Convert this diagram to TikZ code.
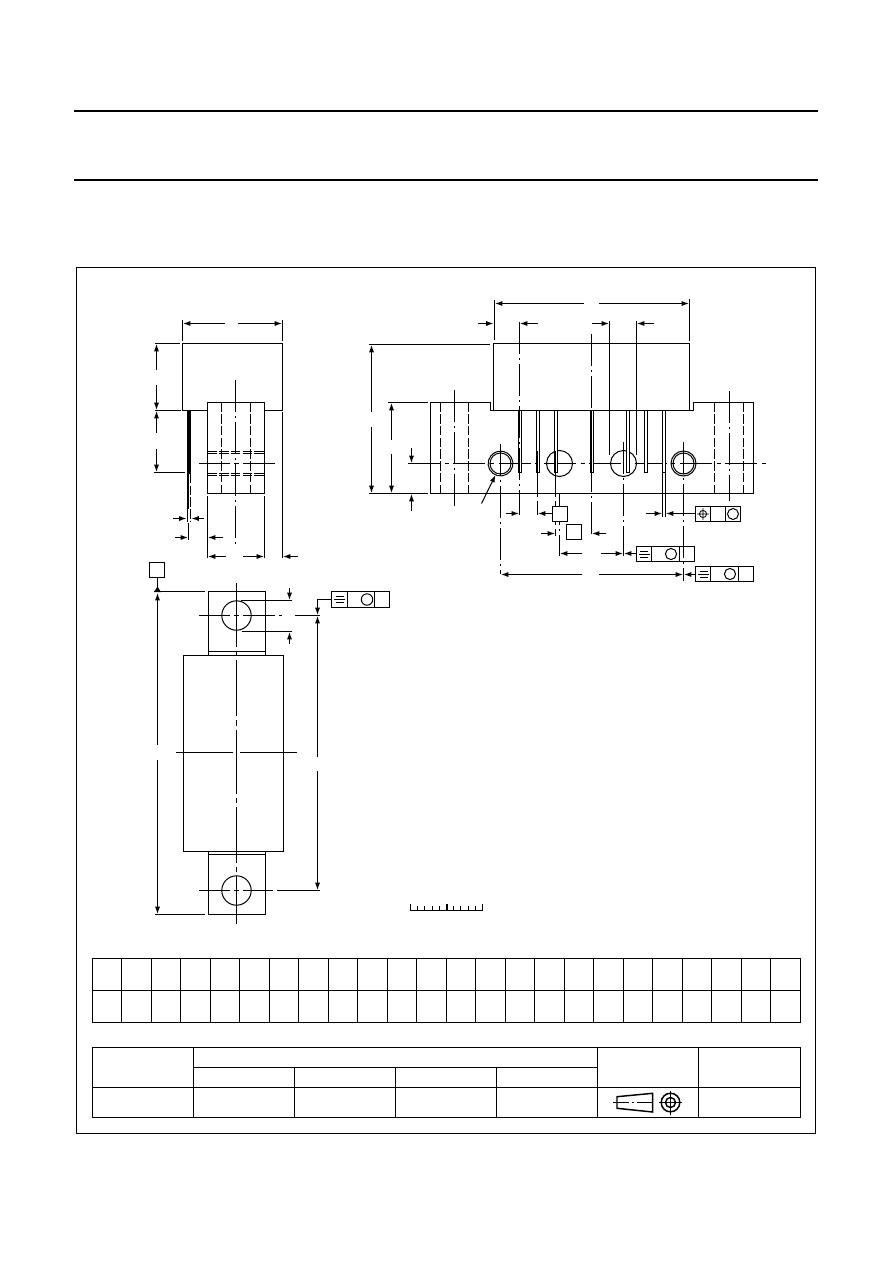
\documentclass[tikz,border=0pt]{standalone}
\usetikzlibrary{arrows.meta}
\tikzset{
  line/.style={line width=0.75pt},
  heavy/.style={line width=1.5pt},
  ctr/.style={line width=0.75pt,dash pattern=on 24pt off 3pt on 1.5pt off 3pt},
  hid/.style={line width=0.75pt,dash pattern=on 7pt off 1.8pt},
  dim/.style={line width=0.75pt,-{Latex[length=5.5pt,width=3.8pt]}},
}
\newcommand{\flatsym}[2]{\draw[line width=0.6pt] (#1-4,#2-3) -- (#1+4,#2-3) (#1-5.5,#2) -- (#1+5.5,#2) (#1-4,#2+3) -- (#1+4,#2+3);}
\begin{document}
\begin{tikzpicture}[x=0.75pt,y=-0.75pt]
\useasboundingbox (0,0) rectangle (892,1263);
\fill[white] (0,0) rectangle (892,1263);
% page rules and frame
\draw[heavy] (74,111) -- (818,111) (74,180) -- (818,180);
\draw[line] (76.5,267.5) rectangle (815.5,1133.5);

% ===== left (side) view =====
\draw[line] (207.5,410.5) -- (182.5,410.5) -- (182.5,343.5) -- (282.5,343.5) -- (282.5,410.5) -- (264.5,410.5);
\draw[line] (207.5,402.5) rectangle (264.5,493.5);
\draw[hid] (221.5,402.5) -- (221.5,493.5) (250.5,402.5) -- (250.5,493.5);
\draw[hid] (207.5,451.5) -- (266,451.5) (207.5,453.5) -- (266,453.5) (207.5,473.5) -- (266,473.5) (207.5,475.5) -- (266,475.5);
\draw[ctr] (235.5,380) -- (235.5,543.7);
\draw[line] (199,463.5) -- (230,463.5) (234,463.5) -- (239,463.5) (243,463.5) -- (275,463.5);
\fill (187,410.5) rectangle (191,474);
\draw[line] (187.5,474) -- (187.5,522);
\draw[hid] (190.5,474) -- (190.5,522);
\draw[line] (188.5,474) -- (188.5,509);
% left view dims
\draw[line] (182.5,320) -- (182.5,341) (282.5,320) -- (282.5,341) (282.5,412) -- (282.5,558);
\draw[dim] (225,323.5) -- (183,323.5);
\draw[dim] (238,323.5) -- (282,323.5);
\draw[line] (155,343.5) -- (180,343.5) (155,410.5) -- (181,410.5) (154,472.5) -- (185,472.5);
\draw[dim] (156.5,370) -- (156.5,344);
\draw[dim] (156.5,385) -- (156.5,410);
\draw[dim] (156.5,432.7) -- (156.5,411);
\draw[dim] (156.5,449) -- (156.5,472);
\draw[dim] (173,518.5) -- (186.5,518.5);
\draw[dim] (204,518.5) -- (191.5,518.5);
\draw[line] (188.5,523) -- (188.5,540);
\draw[dim] (175,537.5) -- (188,537.5);
\draw[dim] (223,537.5) -- (208,537.5);
\draw[line] (207.5,496) -- (207.5,558) (264.5,496) -- (264.5,558);
\draw[dim] (225.7,556.5) -- (208,556.5);
\draw[dim] (243,556.5) -- (264,556.5);
\draw[dim] (298,556.5) -- (283,556.5);

% ===== right (front) view =====
\draw[line] (493.5,410.5) -- (493.5,343.5) -- (689.5,343.5) -- (689.5,410.5);
\draw[line] (430.5,402.5) -- (490.5,402.5) -- (490.5,410.5) -- (693.5,410.5) -- (693.5,402.5) -- (753.5,402.5) -- (753.5,493.5) -- (430.5,493.5) -- cycle;
\draw[hid] (440.5,402.5) -- (440.5,493.5) (468.5,402.5) -- (468.5,493.5) (714.5,402.5) -- (714.5,493.5) (743.5,402.5) -- (743.5,493.5);
\draw[ctr] (454.5,390) -- (454.5,506);
\draw[ctr] (729.5,391) -- (729.5,501);
\draw[line,dash pattern=on 24pt off 3.5pt on 3pt off 3.5pt] (408,463.5) -- (766,463.5);
% holes
\draw[line] (500.5,463.5) circle[radius=10.5];
\draw[line] (494.5,452.7) arc[start angle=241,end angle=-130,radius=12.4];
\draw[line] (683.5,463.5) circle[radius=10.5] circle[radius=12.5];
\draw[line] (559.5,463.5) circle[radius=13];
\draw[line] (623.5,463.5) circle[radius=13];
% pins
\foreach \p in {518.5,536.5,554.5,590.5,626.5,644.5,662.5}
  \draw[line,fill=white] (\p,410.5) -- (\p,472.5) -- (\p+3,472.5) -- (\p+3,410.5);
\fill (518,451) rectangle (520,473);
\fill (536,451) rectangle (538,473);
\fill (554,451) rectangle (556,473);
\fill (590,410.5) rectangle (592,473);
% centre lines through the holes
\draw[ctr] (500.5,444) -- (500.5,573.5);
\draw[ctr] (623.5,442) -- (623.5,556);
\draw[ctr] (683.5,442) -- (683.5,581);
\draw[ctr] (559.5,493) -- (559.5,556);
\draw[ctr] (519.5,322) -- (519.5,515);
\draw[ctr] (591.5,334) -- (591.5,535.7);
\draw[line] (609.5,321) -- (609.5,455) (636.5,321) -- (636.5,455);
\draw[line,dash pattern=on 18pt off 3pt] (537.5,473) -- (537.5,515);
\draw[line,dash pattern=on 18pt off 3pt] (555.5,473) -- (555.5,536);
\draw[line] (662.5,473) -- (662.5,516.5) (665.5,473) -- (665.5,516.5);
% dims, top
\draw[line] (494.5,300) -- (494.5,340) (689.5,299) -- (689.5,341);
\draw[dim] (584,303.5) -- (495,303.5);
\draw[dim] (599,303.5) -- (689,303.5);
\draw[dim] (478,323.5) -- (493.5,323.5);
\draw[dim] (538,323.5) -- (520,323.5);
\draw[dim] (592,323.5) -- (609,323.5);
\draw[dim] (654,323.5) -- (637,323.5);
% dims, left
\draw[line] (369,344.5) -- (489.5,344.5) (369,493.5) -- (428,493.5) (388,402.5) -- (428,402.5);
\draw[dim] (371.5,411.7) -- (371.5,345);
\draw[dim] (371.5,426.7) -- (371.5,493);
\draw[dim] (391.5,440) -- (391.5,403);
\draw[dim] (391.5,454) -- (391.5,493);
\draw[dim] (411.5,448) -- (411.5,463);
\draw[dim] (411.5,510.7) -- (411.5,494);
\draw[dim] (481.5,503.5) -- (495.5,475);
% dims, bottom
\draw[dim] (506,513.5) -- (519,513.5);
\draw[dim] (552,513.5) -- (538,513.5);
\draw[dim] (646,513.5) -- (662,513.5);
\draw[dim] (695.5,513.5) -- (666,513.5);
\draw[dim] (541,533.5) -- (555,533.5);
\draw[dim] (606,533.5) -- (592,533.5);
\draw[dim] (582,553.5) -- (560,553.5);
\draw[dim] (601,553.5) -- (623,553.5);
\draw[dim] (636.5,553.5) -- (624,553.5);
\draw[dim] (582,574.5) -- (501,574.5);
\draw[dim] (599,574.5) -- (683,574.5);
\draw[dim] (695.5,574.5) -- (684,574.5);
% datum boxes
\draw[line,fill=white] (552.5,506.5) rectangle (567.5,521.5);
\draw[line,fill=white] (566.5,524.5) rectangle (581.5,539.5);
\draw[line] (149.5,562.5) rectangle (164.5,577.5);
% feature control frames
\draw[line] (695.5,506.5) rectangle (740.5,521.5) (710.5,506.5) -- (710.5,521.5) (725.5,506.5) -- (725.5,521.5);
\draw[line width=0.6pt] (703,514) circle[radius=3.6] (703,508) -- (703,520) (697,514) -- (709,514);
\draw[line] (733,514) circle[radius=5.5];
\draw[line] (636.5,546.5) rectangle (694.5,561.5) (651.5,546.5) -- (651.5,561.5) (679.5,546.5) -- (679.5,561.5);
\flatsym{644}{554}
\draw[line] (671,554) circle[radius=5.6];
\draw[line] (695.5,566.5) rectangle (753.5,581.5) (710.5,566.5) -- (710.5,581.5) (738.5,566.5) -- (738.5,581.5);
\flatsym{703.5}{574}
\draw[line] (730,574) circle[radius=5.6];
\draw[line] (331.5,591.5) rectangle (389.5,607.5) (347.5,591.5) -- (347.5,607.5) (374.5,591.5) -- (374.5,607.5);
\flatsym{339.5}{599.5}
\draw[line] (367,599.5) circle[radius=5.7];

% ===== bottom (plan) view =====
\draw[line] (183.5,655.5) rectangle (283.5,851.5);
\draw[line] (208.5,655) -- (208.5,591.5) -- (265.5,591.5) -- (265.5,655) (208.5,651.5) -- (265.5,651.5);
\draw[line] (208.5,851.5) -- (208.5,914.5) -- (265.5,914.5) -- (265.5,851.5) (208.5,854.5) -- (265.5,854.5);
\draw[line] (236.5,615.5) circle[radius=14.7] (236.5,890.5) circle[radius=14.7];
\draw[line,dash pattern=on 48pt off 3pt on 4pt off 3pt on 42pt off 3pt on 4pt off 3pt] (236.5,583) -- (236.5,923.7);
\draw[line] (199,615.5) -- (230,615.5) (234,615.5) -- (239,615.5) (243,615.5) -- (275,615.5) (279,615.5) -- (282,615.5) (295,615.5) -- (320,615.5);
\draw[line] (199,890.5) -- (230,890.5) (234,890.5) -- (239,890.5) (243,890.5) -- (273,890.5) (277,890.5) -- (320,890.5);
\draw[line] (176,752.5) -- (233,752.5) (240,752.5) -- (297,752.5);
% plan view dims
\draw[line] (157.5,577.5) -- (157.5,587);
\fill (154,592) -- (157.5,586.5) -- (161,592) -- cycle;
\draw[line] (154,591.5) -- (204.5,591.5) (155,914.5) -- (205,914.5);
\draw[dim] (157.5,745) -- (157.5,593);
\draw[dim] (157.5,760) -- (157.5,914);
\draw[line] (241,600.5) -- (292,600.5) (242,631.5) -- (292,631.5);
\draw[dim] (289.5,588) -- (289.5,600);
\draw[dim] (289.5,644) -- (289.5,632);
\draw[dim] (331.5,599.5) -- (317.5,599.5) -- (317.5,615);
\draw[dim] (317.5,757) -- (317.5,616);
\draw[dim] (317.5,771) -- (317.5,890);

% scale bar
\draw[line] (410.5,903.5) -- (410.5,910.5) -- (482.5,910.5) -- (482.5,903.5);
\foreach \i in {1,2,3,4,6,7,8,9}
  \draw[line] ({410.5+round(7.2*\i)},906) -- ({410.5+round(7.2*\i)},910.5);
\draw[line width=1.5pt] (446.5,903.5) -- (446.5,910.5);

% dimension table
\draw[line] (92.5,958.5) rectangle (800.5,1022.5) (92.5,990.5) -- (800.5,990.5);
\foreach \i in {1,...,23}
  \draw[line] ({92.5+round(29.5*\i-0.1)},958.5) -- ({92.5+round(29.5*\i-0.1)},1022.5);

% outline version table
\draw[line] (92.5,1047.5) rectangle (800.5,1117.5) (92.5,1087.5) -- (800.5,1087.5);
\draw[line] (193.5,1047.5) -- (193.5,1117.5) (597.5,1047.5) -- (597.5,1117.5) (698.5,1047.5) -- (698.5,1117.5);
\draw[line] (193.5,1067.5) -- (597.5,1067.5);
\draw[line] (294.5,1067.5) -- (294.5,1117.5) (395.5,1067.5) -- (395.5,1117.5) (496.5,1067.5) -- (496.5,1117.5);
% projection symbol
\draw[line width=1.1pt] (617,1096.7) -- (652.7,1093.3) -- (652.7,1112) -- (617,1108.3) -- cycle;
\draw[line,dash pattern=on 12pt off 2pt on 2pt off 2pt] (613,1102.5) -- (655,1102.5);
\draw[line width=1.1pt] (670.5,1102.5) circle[radius=9.3] circle[radius=5];
\draw[line] (659,1102.5) -- (682,1102.5) (670.5,1091) -- (670.5,1114.5);
\end{tikzpicture}
\end{document}
